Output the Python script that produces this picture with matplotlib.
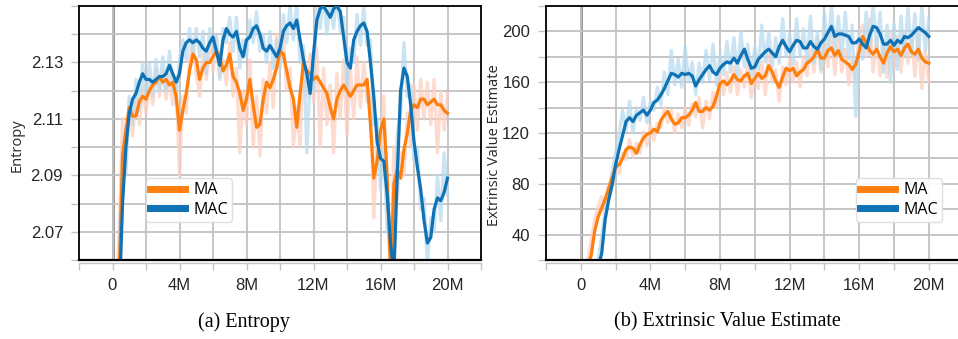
import matplotlib
matplotlib.use("Agg")
import matplotlib.pyplot as plt
from matplotlib.ticker import FixedLocator, FuncFormatter
import numpy as np

# training steps in millions, one sample every 0.2M
steps = np.round(np.arange(1, 101) * 0.2, 1)

# (a) Entropy, smoothed
ent_ma = [2.030, 2.055, 2.097, 2.106, 2.114, 2.111, 2.111, 2.116, 2.118, 2.117,
          2.120, 2.122, 2.123, 2.125, 2.123, 2.124, 2.122, 2.123, 2.118, 2.106,
          2.113, 2.119, 2.127, 2.133, 2.131, 2.124, 2.128, 2.130, 2.130, 2.132,
          2.134, 2.132, 2.127, 2.129, 2.133, 2.125, 2.123, 2.119, 2.113, 2.117,
          2.124, 2.115, 2.107, 2.108, 2.117, 2.123, 2.121, 2.124, 2.128, 2.134,
          2.133, 2.127, 2.121, 2.117, 2.107, 2.119, 2.130, 2.127, 2.126, 2.124,
          2.125, 2.123, 2.121, 2.119, 2.114, 2.110, 2.117, 2.120, 2.122, 2.120,
          2.118, 2.120, 2.122, 2.122, 2.122, 2.124, 2.108, 2.089, 2.095, 2.106,
          2.110, 2.090, 2.055, 2.087, 2.092, 2.089, 2.099, 2.105, 2.113, 2.115,
          2.114, 2.117, 2.117, 2.115, 2.116, 2.117, 2.115, 2.115, 2.113, 2.112]
ent_mac = [2.020, 2.045, 2.080, 2.100, 2.112, 2.117, 2.119, 2.123, 2.126, 2.124,
           2.124, 2.123, 2.124, 2.125, 2.125, 2.126, 2.129, 2.126, 2.123, 2.126,
           2.134, 2.137, 2.138, 2.137, 2.138, 2.137, 2.135, 2.134, 2.137, 2.139,
           2.134, 2.129, 2.138, 2.142, 2.140, 2.139, 2.141, 2.135, 2.132, 2.138,
           2.139, 2.142, 2.143, 2.140, 2.135, 2.134, 2.136, 2.134, 2.132, 2.135,
           2.141, 2.143, 2.144, 2.142, 2.145, 2.138, 2.131, 2.126, 2.119, 2.133,
           2.145, 2.149, 2.150, 2.148, 2.146, 2.149, 2.150, 2.148, 2.139, 2.130,
           2.128, 2.138, 2.141, 2.143, 2.144, 2.141, 2.130, 2.118, 2.102, 2.096,
           2.095, 2.083, 2.066, 2.055, 2.090, 2.120, 2.128, 2.125, 2.115, 2.102,
           2.093, 2.085, 2.074, 2.066, 2.068, 2.078, 2.082, 2.081, 2.084, 2.089]
# (a) Entropy, raw
ent_ma_raw = [2.040, 2.070, 2.110, 2.095, 2.116, 2.104, 2.118, 2.108, 2.121, 2.112,
              2.124, 2.115, 2.128, 2.118, 2.127, 2.117, 2.126, 2.115, 2.122, 2.090,
              2.118, 2.112, 2.132, 2.138, 2.126, 2.118, 2.133, 2.124, 2.136, 2.127,
              2.139, 2.125, 2.131, 2.122, 2.137, 2.118, 2.128, 2.098, 2.120, 2.108,
              2.131, 2.100, 2.118, 2.097, 2.124, 2.112, 2.130, 2.114, 2.140, 2.128,
              2.139, 2.120, 2.128, 2.100, 2.114, 2.100, 2.134, 2.118, 2.133, 2.116,
              2.135, 2.100, 2.128, 2.108, 2.122, 2.098, 2.126, 2.110, 2.131, 2.104,
              2.128, 2.110, 2.132, 2.114, 2.130, 2.116, 2.120, 2.075, 2.104, 2.095,
              2.118, 2.080, 2.055, 2.100, 2.082, 2.098, 2.090, 2.112, 2.100, 2.122,
              2.106, 2.124, 2.110, 2.123, 2.108, 2.124, 2.098, 2.120, 2.106, 2.119]
ent_mac_raw = [2.030, 2.060, 2.100, 2.090, 2.118, 2.108, 2.124, 2.113, 2.130, 2.117,
               2.130, 2.118, 2.131, 2.120, 2.132, 2.120, 2.134, 2.121, 2.118, 2.131,
               2.138, 2.131, 2.142, 2.133, 2.142, 2.132, 2.141, 2.126, 2.142, 2.134,
               2.140, 2.124, 2.142, 2.137, 2.146, 2.134, 2.146, 2.128, 2.138, 2.132,
               2.145, 2.137, 2.148, 2.134, 2.140, 2.130, 2.141, 2.128, 2.138, 2.128,
               2.147, 2.137, 2.150, 2.138, 2.151, 2.130, 2.136, 2.098, 2.125, 2.120,
               2.152, 2.142, 2.155, 2.140, 2.152, 2.142, 2.155, 2.141, 2.146, 2.120,
               2.135, 2.130, 2.147, 2.136, 2.150, 2.136, 2.138, 2.108, 2.110, 2.085,
               2.100, 2.070, 2.075, 2.055, 2.105, 2.112, 2.137, 2.118, 2.122, 2.095,
               2.100, 2.078, 2.082, 2.058, 2.075, 2.070, 2.090, 2.074, 2.098, 2.083]

# (b) Extrinsic value estimate, smoothed
val_ma = [5, 15, 24, 43, 54, 61, 68, 76, 85, 93,
          95, 100, 107, 109, 108, 104, 111, 116, 119, 120,
          123, 121, 130, 134, 137, 131, 127, 128, 132, 132,
          134, 138, 144, 137, 137, 140, 138, 141, 149, 159,
          161, 158, 161, 166, 162, 161, 165, 167, 159, 163,
          167, 163, 165, 173, 168, 161, 156, 164, 171, 169,
          171, 165, 168, 170, 175, 177, 180, 186, 179, 179,
          185, 187, 181, 185, 178, 176, 174, 170, 174, 184,
          196, 191, 185, 182, 186, 180, 175, 183, 188, 184,
          186, 181, 187, 190, 184, 182, 186, 179, 176, 175]
val_mac = [-5, 0, 5, 10, 15, 25, 52, 67, 79, 95,
           107, 118, 129, 132, 129, 134, 136, 138, 134, 138,
           144, 146, 150, 155, 161, 167, 166, 164, 167, 166,
           167, 165, 157, 162, 166, 170, 173, 168, 166, 171,
           174, 176, 175, 179, 175, 181, 186, 178, 171, 172,
           178, 181, 184, 186, 183, 180, 188, 193, 188, 184,
           189, 193, 192, 187, 187, 192, 188, 186, 191, 194,
           199, 204, 196, 198, 198, 197, 196, 191, 191, 194,
           190, 187, 197, 204, 203, 198, 190, 190, 193, 189,
           193, 191, 196, 195, 197, 200, 203, 201, 199, 196]
# (b) Extrinsic value estimate, raw
val_ma_raw = [8, 20, 35, 52, 62, 70, 62, 80, 78, 96,
              88, 104, 99, 115, 101, 112, 104, 121, 110, 126,
              114, 128, 124, 140, 128, 138, 120, 135, 124, 140,
              126, 143, 133, 148, 124, 145, 131, 152, 140, 165,
              150, 168, 152, 172, 150, 170, 156, 174, 148, 170,
              155, 176, 150, 182, 160, 170, 145, 172, 158, 178,
              160, 176, 156, 180, 165, 186, 168, 196, 168, 190,
              172, 200, 166, 195, 168, 186, 158, 180, 160, 198,
              205, 180, 210, 168, 195, 165, 190, 164, 200, 170,
              196, 168, 200, 175, 196, 165, 198, 155, 185, 160]
val_mac_raw = [-5, 0, 5, 12, 20, 38, 60, 74, 90, 105,
               118, 138, 122, 145, 120, 140, 130, 148, 128, 145,
               138, 156, 142, 168, 150, 185, 158, 178, 156, 188,
               160, 176, 150, 175, 160, 185, 162, 190, 158, 182,
               166, 192, 168, 195, 164, 200, 172, 190, 165, 188,
               170, 205, 176, 200, 172, 195, 175, 210, 180, 198,
               174, 210, 180, 202, 176, 212, 175, 200, 170, 215,
               182, 220, 185, 212, 180, 215, 178, 205, 133, 200,
               178, 215, 182, 222, 186, 215, 168, 205, 160, 206,
               170, 212, 180, 218, 182, 214, 178, 220, 185, 210]

labels = ["MA", "MAC"]
colors = ["#ff7f0e", "#0f72b5"]
raw_colors = ["#fdcfc0", "#b9dbef"]

W, H = 958, 339
fig = plt.figure(figsize=(W / 100, H / 100), dpi=100)

def fmt_steps(v, pos):
    if abs(v) < 1e-9:
        return "0"
    return "%dM" % round(v)

def setup(ax, ylim, ymajor, yminor, yfmt):
    ax.set_xlim(-2, 22)
    ax.set_ylim(*ylim)
    ax.xaxis.set_major_locator(FixedLocator([0, 4, 8, 12, 16, 20]))
    ax.xaxis.set_minor_locator(FixedLocator([-2, 2, 6, 10, 14, 18, 22]))
    ax.xaxis.set_major_formatter(FuncFormatter(fmt_steps))
    ax.yaxis.set_major_locator(FixedLocator(ymajor))
    ax.yaxis.set_minor_locator(FixedLocator(yminor))
    ax.yaxis.set_major_formatter(FuncFormatter(lambda v, p: yfmt % v))
    ax.grid(True, which="both", color="#c2c2c2", linewidth=1.3, zorder=0)
    ax.axvline(0, color="#8c8c8c", linewidth=2.0, zorder=1)
    for s in ["top", "left", "right"]:
        ax.spines[s].set_color("black")
        ax.spines[s].set_linewidth(1.3)
    ax.spines["bottom"].set_position(("outward", 2))
    ax.spines["bottom"].set_color("#c4c4c4")
    ax.spines["bottom"].set_linewidth(1.0)
    ax.plot([0, 1], [0, 0], transform=ax.transAxes, color="black",
            linewidth=1.6, clip_on=False, zorder=5)
    ax.tick_params(axis="both", which="both", direction="out", color="#c4c4c4",
                   width=1.0, labelsize=12, labelcolor="#262626")
    ax.tick_params(axis="x", which="both", length=5, pad=6)
    ax.tick_params(axis="y", which="both", length=5.5, pad=6)
    for t in ax.get_xticklabels() + ax.get_yticklabels():
        t.set_fontfamily("Liberation Sans")

def draw(ax, smooth, raw):
    for r, c in zip(raw, raw_colors):
        ax.plot(steps, r, color=c, alpha=0.75, linewidth=2.4, zorder=2)
    for s, c, lab in zip(smooth, colors, labels):
        ax.plot(steps, s, color=c, linewidth=2.3, label=lab, zorder=3)

def legend(ax, x0):
    leg = ax.legend(loc="lower left", bbox_to_anchor=(x0, 0.151),
                    prop={"family": "Open Sans", "size": 11.5},
                    handlelength=2.2, handletextpad=0.55, labelspacing=0.2,
                    borderpad=0.25, borderaxespad=0.0, framealpha=0.9,
                    edgecolor="#dcdcdc", fancybox=True)
    for h in leg.get_lines():
        h.set_linewidth(5)
    leg.set_zorder(6)

# left panel: entropy
ax1 = fig.add_axes([79 / W, (H - 260) / H, 402 / W, 254 / H])
draw(ax1, [ent_ma, ent_mac], [ent_ma_raw, ent_mac_raw])
setup(ax1, (2.06, 2.15), [2.07, 2.09, 2.11, 2.13],
      [2.06, 2.08, 2.10, 2.12, 2.14, 2.15], "%.2f")
legend(ax1, 0.166)

# right panel: extrinsic value estimate
ax2 = fig.add_axes([546 / W, (H - 260) / H, 417.6 / W, 254 / H])
draw(ax2, [val_ma, val_mac], [val_ma_raw, val_mac_raw])
setup(ax2, (20, 220), [40, 80, 120, 160, 200],
      [20, 60, 100, 140, 180, 220], "%d")
legend(ax2, 0.742)

fig.text(17 / W, 1 - 145 / H, "Entropy", rotation=90, ha="center", va="center",
         fontsize=10.5, family="Open Sans", color="#262626")
fig.text(494 / W, 1 - 145 / H, "Extrinsic Value Estimate", rotation=90,
         ha="center", va="center", fontsize=10.5, family="Open Sans", color="#262626")

fig.text(244 / W, 1 - 322 / H, "(a) Entropy", ha="center", va="center",
         fontsize=14.5, family="Liberation Serif")
fig.text(727 / W, 1 - 322 / H, "(b) Extrinsic Value Estimate", ha="center",
         va="center", fontsize=14.5, family="Liberation Serif")

fig.savefig("out.png", dpi=100)
